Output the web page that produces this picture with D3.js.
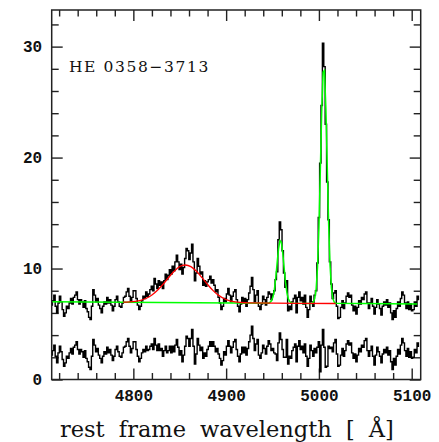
<!DOCTYPE html>
<html><head><meta charset="utf-8">
<script src="https://cdn.jsdelivr.net/npm/d3@7"></script>
<style>body{margin:0;background:#fff} svg{display:block}</style>
</head><body>
<svg id="c" width="439" height="442"></svg>
<script>
// ---- data ----
const lambdaStart = 4712, lambdaStep = 1.5;   // sampling of the spectrum (Å)
const flux = [
 6.7,7.1,7.6,6.6,6.0,6.9,7.5,7.0,6.3,5.7,
 6.0,6.6,6.4,6.9,7.3,6.8,7.4,7.6,7.9,7.2,
 6.8,7.2,7.0,6.5,7.1,6.4,6.1,5.6,5.4,6.6,
 8.1,7.6,7.0,7.3,6.7,6.4,6.0,6.6,7.0,6.8,
 7.4,6.9,7.2,6.7,6.2,6.6,7.2,7.5,7.0,6.6,
 6.5,6.9,7.4,7.5,7.9,8.2,7.5,7.0,7.4,8.0,
 8.0,7.3,6.7,6.3,6.6,7.1,7.5,7.3,7.9,7.5,
 7.7,8.1,8.4,8.0,9.1,8.6,8.2,8.9,8.5,8.8,
 8.2,8.9,9.5,9.0,9.4,9.9,9.5,10.2,9.8,10.6,
 11.2,10.6,9.9,10.4,9.5,10.1,10.9,11.8,11.6,10.8,
 11.4,12.2,10.6,8.9,9.6,10.9,10.2,9.5,9.7,8.5,
 8.9,8.4,8.8,9.0,9.3,8.7,9.0,8.5,7.9,8.1,
 7.4,6.9,6.3,6.6,7.3,7.0,7.7,8.2,7.6,7.0,
 7.5,7.9,8.1,7.2,6.6,6.1,6.8,7.4,6.9,7.3,
 6.6,7.2,7.8,8.4,9.2,8.1,7.0,7.6,8.0,6.6,
 6.3,6.8,7.5,7.2,6.7,7.4,7.9,7.7,7.2,7.7,
 8.0,9.0,9.7,12.6,14.2,13.5,11.6,9.6,8.3,8.9,
 6.2,6.6,6.3,7.0,7.3,7.6,6.0,7.4,7.9,7.1,
 7.4,6.8,7.6,6.5,5.6,6.3,7.5,7.0,6.6,7.6,
 8.0,10.5,14.6,19.5,24.7,30.3,28.2,23.0,17.8,14.4,
 10.6,8.6,7.3,7.8,8.0,6.6,5.5,5.6,6.5,7.1,
 6.4,6.9,7.5,7.8,7.4,7.6,6.7,6.2,6.6,5.9,
 6.5,7.1,6.8,7.4,7.2,7.7,7.9,6.9,6.4,6.9,
 7.3,6.6,5.9,6.5,7.2,6.8,6.4,5.8,6.6,7.0,
 6.7,7.2,6.5,6.9,6.0,5.4,6.2,5.6,6.4,7.0,
 6.6,7.3,7.9,7.6,6.9,6.4,7.0,6.3,6.8,6.2,
 6.3,7.0,6.6,7.5,7.2
];
const residual = [
 2.2,2.6,3.1,2.1,1.5,2.4,3.0,2.5,1.8,1.2,
 1.5,2.1,1.9,2.4,2.8,2.3,2.9,3.1,3.4,2.7,
 2.3,2.7,2.5,2.0,2.6,1.9,1.6,1.1,0.9,2.1,
 3.6,3.1,2.5,2.8,2.2,1.9,1.5,2.1,2.5,2.3,
 2.9,2.4,2.7,2.2,1.7,2.1,2.7,3.0,2.5,2.1,
 2.0,2.4,2.9,3.0,3.4,3.7,3.0,2.4,2.8,3.4,
 3.4,2.7,2.1,1.6,1.9,2.4,2.7,2.5,3.0,2.6,
 2.7,3.0,3.2,2.7,3.7,3.1,2.6,3.2,2.6,2.8,
 2.1,2.6,3.0,2.4,2.6,3.0,2.4,3.0,2.5,3.1,
 3.6,2.9,2.2,2.6,1.6,2.2,3.0,3.9,3.7,3.0,
 3.7,4.5,3.0,1.4,2.3,3.7,3.1,2.6,2.9,1.9,
 2.4,2.1,2.7,3.0,3.4,3.0,3.4,3.0,2.5,2.8,
 2.3,1.9,1.3,1.7,2.5,2.2,3.0,3.5,3.0,2.4,
 2.9,3.4,3.6,2.7,2.1,1.6,2.3,2.9,2.4,2.9,
 2.2,2.8,3.4,4.0,4.8,3.7,2.6,3.2,3.6,2.2,
 1.9,2.4,3.1,2.8,2.3,3.0,3.5,3.2,2.6,2.8,
 2.4,2.3,1.7,3.3,4.2,3.6,2.7,2.0,2.0,3.6,
 1.4,2.1,1.9,2.6,2.9,3.2,1.6,3.0,3.5,2.7,
 3.0,2.4,3.2,2.1,1.2,1.9,3.1,2.6,2.1,2.8,
 2.4,2.9,3.4,0.7,3.1,4.5,2.9,1.1,1.2,3.0,
 2.8,2.9,2.5,3.3,3.6,2.3,1.2,1.3,2.2,2.8,
 2.1,2.6,3.2,3.5,3.1,3.3,2.4,1.9,2.3,1.6,
 2.2,2.8,2.5,3.1,2.9,3.5,3.7,2.6,2.1,2.6,
 3.0,2.1,1.3,2.2,2.9,2.5,2.1,1.5,2.3,2.7,
 2.4,2.9,2.2,2.6,1.6,0.9,1.9,1.3,2.1,2.7,
 2.3,3.1,3.7,3.3,2.6,2.1,2.8,2.0,2.5,1.9,
 2.0,2.7,2.4,3.3,3.0
];
// green: continuum + narrow [OIII] lines
const greenLambda = [4712,4946,4947.5,4949,4950.5,4952,4953.5,4955,4956.5,4958,4959.5,4961,4962.5,4964,4965.5,4967,4968.5,4970,4971.5,
  4992.5,4994,4995.5,4997,4998.5,5000,5001.5,5003,5004.5,5006,5007.5,5009,5010.5,5012,5013.5,5015,5016.5,5018,5106];
const greenFlux = [7.0,6.88,6.97,7.11,7.45,8.10,9.17,10.53,11.80,12.53,12.37,11.42,10.06,8.77,7.83,7.28,7.02,6.92,6.87,
  6.86,6.98,7.29,8.15,10.12,13.68,18.75,24.15,27.70,27.85,24.45,19.15,13.95,10.29,8.23,7.31,6.97,6.87,6.80];
// red: continuum + broad H-beta
const redLambda = [4789,4796,4802,4808,4814,4820,4826,4832,4838,4844,4850,4856,4862,4868,4874,4880,4886,4892,4898,4904,4910,4916,4924,5018];
const redFlux = [6.97,6.99,7.04,7.14,7.32,7.61,8.04,8.58,9.19,9.75,10.18,10.32,10.17,9.75,9.18,8.56,8.01,7.58,7.28,7.09,6.99,6.94,6.90,6.85];

const xMajorTicks = [4800, 4900, 5000, 5100];
const xMinorTicks = [4720,4740,4760,4780,4820,4840,4860,4880,4920,4940,4960,4980,5020,5040,5060,5080];
const yMajorTicks = [0, 10, 20, 30];
const yMinorTicks = [2,4,6,8,12,14,16,18,22,24,26,28,32];
const objectName = "HE 0358\u22123713";
const xTitle = "rest frame wavelength [ \u00C5]";

// ---- layout ----
const L = 51.7, R = 420.7, T = 10, B = 379.5;
const x = d3.scaleLinear().domain([4712, 5109.7]).range([L, R]);
const y = d3.scaleLinear().domain([0, 33.3]).range([B, T]);
const svg = d3.select("#c");
const wavelength = flux.map((_, i) => lambdaStart + i * lambdaStep);

const tickFont = "'Liberation Mono', 'Courier New', monospace";
function styleAxis(g, labels) {
  g.select(".domain").remove();
  g.selectAll(".tick line").attr("stroke", "#222").attr("stroke-width", 1.4);
  g.selectAll(".tick text").attr("fill", "#111").style("font-family", tickFont)
    .style("font-weight", "bold").style("font-size", "16px");
  if (!labels) g.selectAll(".tick text").remove();
}
// bottom
svg.append("g").attr("transform", `translate(0,${B})`)
  .call(d3.axisBottom(x).tickValues(xMajorTicks).tickSizeInner(-11).tickSizeOuter(0).tickPadding(10.5).tickFormat(d3.format("d")))
  .call(g => styleAxis(g, true));
svg.append("g").attr("transform", `translate(0,${B})`)
  .call(d3.axisBottom(x).tickValues(xMinorTicks).tickSizeInner(-6.5).tickSizeOuter(0))
  .call(g => styleAxis(g, false));
// top
svg.append("g").attr("transform", `translate(0,${T})`)
  .call(d3.axisTop(x).tickValues(xMajorTicks).tickSizeInner(-11).tickSizeOuter(0))
  .call(g => styleAxis(g, false));
svg.append("g").attr("transform", `translate(0,${T})`)
  .call(d3.axisTop(x).tickValues(xMinorTicks).tickSizeInner(-6.5).tickSizeOuter(0))
  .call(g => styleAxis(g, false));
// left
svg.append("g").attr("transform", `translate(${L},0)`)
  .call(d3.axisLeft(y).tickValues(yMajorTicks).tickSizeInner(-11).tickSizeOuter(0).tickPadding(9.5).tickFormat(d3.format("d")))
  .call(g => styleAxis(g, true));
svg.append("g").attr("transform", `translate(${L},0)`)
  .call(d3.axisLeft(y).tickValues(yMinorTicks).tickSizeInner(-7).tickSizeOuter(0))
  .call(g => styleAxis(g, false));
// right
svg.append("g").attr("transform", `translate(${R},0)`)
  .call(d3.axisRight(y).tickValues(yMajorTicks).tickSizeInner(-11).tickSizeOuter(0))
  .call(g => styleAxis(g, false));
svg.append("g").attr("transform", `translate(${R},0)`)
  .call(d3.axisRight(y).tickValues(yMinorTicks).tickSizeInner(-7).tickSizeOuter(0))
  .call(g => styleAxis(g, false));

// ---- spectra ----
const stepLine = d3.line().x(d => x(d[0])).y(d => y(d[1])).curve(d3.curveStep);
const polyLine = d3.line().x(d => x(d[0])).y(d => y(d[1]));
svg.append("path").datum(wavelength.map((w, i) => [w, flux[i]]))
  .attr("d", stepLine).attr("fill", "none").attr("stroke", "#000").attr("stroke-width", 1.4);
svg.append("path").datum(wavelength.map((w, i) => [w, residual[i]]))
  .attr("d", stepLine).attr("fill", "none").attr("stroke", "#000").attr("stroke-width", 1.4);
svg.append("path").datum(greenLambda.map((w, i) => [w, greenFlux[i]]))
  .attr("d", polyLine).attr("fill", "none").attr("stroke", "#00ff00").attr("stroke-width", 1.5);
svg.append("path").datum(redLambda.map((w, i) => [w, redFlux[i]]))
  .attr("d", d3.line().x(d => x(d[0])).y(d => y(d[1])).curve(d3.curveMonotoneX))
  .attr("fill", "none").attr("stroke", "#ff0000").attr("stroke-width", 1.3);

// ---- frame ----
svg.append("rect").attr("x", L).attr("y", T).attr("width", R - L).attr("height", B - T)
  .attr("fill", "none").attr("stroke", "#222").attr("stroke-width", 1.5);

// ---- texts ----
svg.append("text").attr("x", 69).attr("y", 71.7).text(objectName)
  .style("font-family", "'DejaVu Serif', serif").style("font-size", "15.5px").style("letter-spacing", "1.6px").attr("fill", "#111");
svg.append("text").attr("x", 60).attr("y", 437).text(xTitle)
  .style("font-family", "'DejaVu Serif', serif").style("font-size", "22.5px")
  .style("word-spacing", "7px").attr("fill", "#111");
</script>
</body></html>
